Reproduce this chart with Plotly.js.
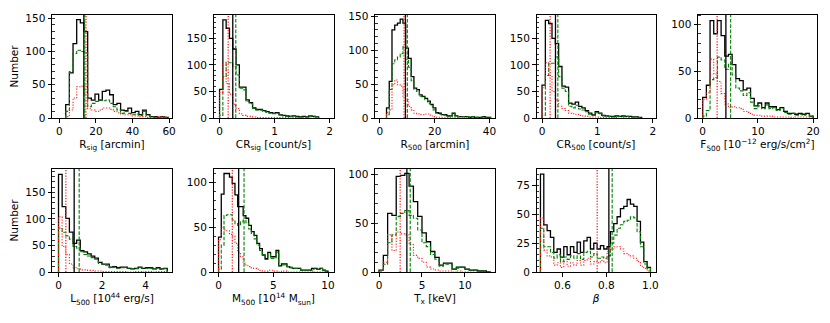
<!DOCTYPE html>
<html>
<head>
<meta charset="utf-8">
<script src="https://cdn.plot.ly/plotly-3.0.1.min.js"></script>
<style>
  body { margin: 0; background: #fff; }
  #chart { width: 830px; height: 323px; }
</style>
</head>
<body>
<div id="chart"></div>
<script>
// Histogram bins: first edge and bin width for each panel
const binStart = [3.5, 0, 2.4, 0, 0, 0, 0, 0, 0.5];
const binWidth = [2, 0.06, 1, 0.06, 20 / 30, 5 / 30, 0.25, 0.5, 0.5 / 33];

// R_sig
const rsigAll   = [20, 68, 112, 148, 143, 130, 30, 27, 36, 27, 40, 42, 35, 20, 22, 12, 11, 15, 8, 10, 5, 12, 5, 2, 2, 1, 2, 1];
const rsigGreen = [10, 70, 97, 102, 100, 98, 17, 22, 25, 27, 26, 27, 22, 17, 12, 7, 10, 7, 5, 6, 4, 10, 4, 2, 1, 1, 1, 1];
const rsigRed   = [2, 12, 30, 47, 48, 35, 14, 12, 10, 12, 15, 15, 13, 10, 8, 6, 5, 5, 3, 3, 2, 2, 1, 1, 1, 2, 2, 1];

// CR_sig
const crsigAll   = [54, 185, 169, 150, 130, 100, 58, 58, 34, 29, 19, 16, 16, 14, 12, 10, 9, 10, 6, 5, 4, 3, 4, 3, 2, 3, 2, 4, 3, 2];
const crsigGreen = [5, 78, 104, 104, 97, 81, 56, 53, 31, 27, 18, 15, 15, 13, 11, 9, 8, 9, 5, 4, 3, 3, 3, 2, 2, 2, 2, 4, 3, 2];
const crsigRed   = [48, 105, 65, 45, 26, 18, 8, 5, 3, 3, 2, 1, 1, 1, 1, 1, 1, 1, 1, 1, 1, 0, 1, 1, 0, 1, 0, 0, 0, 0];

// R_500
const r500All   = [15, 54, 130, 137, 140, 146, 140, 103, 88, 61, 44, 42, 34, 32, 29, 25, 20, 15, 8, 7, 5, 5, 3, 3, 7, 3, 2, 2, 2, 2, 1, 2, 1, 1, 1, 2, 1, 1];
const r500Green = [5, 42, 80, 86, 90, 95, 105, 86, 75, 55, 42, 39, 32, 31, 27, 22, 18, 12, 7, 6, 5, 4, 2, 2, 7, 3, 2, 2, 2, 2, 1, 2, 1, 1, 1, 2, 1, 1];
const r500Red   = [8, 12, 49, 56, 49, 47, 32, 27, 17, 12, 7, 6, 5, 5, 6, 6, 3, 2, 1, 1, 1, 1, 1, 1, 0, 1, 0, 0, 1, 0, 0, 0, 0, 0, 0, 0, 0, 0];

// CR_500
const cr500All   = [62, 184, 178, 150, 140, 97, 60, 58, 28, 26, 30, 22, 19, 14, 9, 6, 12, 9, 5, 4, 3, 3, 4, 3, 4, 3, 3, 2, 2, 1];
const cr500Green = [5, 80, 103, 103, 115, 78, 56, 50, 22, 19, 24, 17, 15, 12, 7, 5, 10, 8, 4, 3, 3, 2, 3, 3, 3, 3, 2, 2, 2, 1];
const cr500Red   = [57, 104, 80, 50, 34, 22, 18, 14, 9, 8, 7, 5, 4, 3, 2, 2, 2, 1, 1, 1, 1, 0, 1, 0, 1, 0, 0, 0, 0, 0];

// F_500
const f500All   = [22, 35, 104, 90, 104, 88, 66, 68, 57, 42, 40, 30, 32, 21, 13, 16, 11, 16, 12, 12, 9, 11, 7, 5, 5, 4, 5, 4, 5, 2];
const f500Green = [2, 8, 41, 43, 65, 62, 52, 58, 46, 32, 29, 24, 27, 17, 10, 13, 10, 14, 10, 11, 8, 10, 6, 4, 5, 3, 4, 3, 4, 2];
const f500Red   = [20, 27, 63, 47, 39, 26, 15, 11, 12, 11, 10, 7, 6, 4, 3, 3, 2, 2, 2, 1, 1, 1, 1, 1, 0, 1, 1, 1, 1, 0];

// L_500
const l500All   = [184, 123, 101, 75, 54, 60, 40, 38, 34, 30, 26, 18, 15, 15, 9, 10, 8, 9, 9, 7, 6, 7, 9, 7, 8, 8, 6, 8, 6, 7];
const l500Green = [83, 75, 68, 62, 48, 45, 38, 33, 30, 27, 24, 16, 14, 13, 8, 9, 7, 8, 8, 7, 6, 6, 8, 7, 7, 7, 6, 7, 5, 6];
const l500Red   = [104, 48, 33, 15, 8, 6, 4, 4, 3, 3, 2, 2, 1, 1, 1, 1, 1, 1, 1, 0, 0, 1, 1, 0, 1, 1, 0, 1, 1, 1];

// M_500
const m500All   = [39, 87, 110, 110, 106, 99, 86, 73, 73, 63, 60, 52, 45, 41, 32, 26, 19, 15, 22, 17, 17, 24, 7, 9, 9, 6, 5, 4, 4, 4, 2, 2, 2, 2, 4, 4, 3, 4, 2, 1];
const m500Green = [3, 30, 63, 64, 64, 58, 54, 52, 56, 58, 55, 48, 43, 37, 30, 24, 19, 14, 20, 15, 15, 22, 7, 8, 8, 6, 5, 4, 4, 4, 2, 2, 2, 2, 3, 4, 3, 4, 2, 1];
const m500Red   = [36, 50, 47, 46, 42, 40, 32, 22, 17, 10, 7, 6, 4, 4, 3, 2, 1, 1, 2, 2, 1, 1, 0, 1, 1, 0, 0, 0, 0, 0, 0, 0, 0, 0, 1, 0, 0, 0, 0, 0];

// T_x
const txAll   = [2, 17, 60, 58, 98, 99, 101, 88, 72, 57, 40, 31, 21, 15, 7, 9, 9, 3, 5, 5, 3, 2, 2, 1, 1, 0];
const txGreen = [1, 8, 30, 38, 57, 60, 63, 58, 55, 43, 30, 26, 18, 13, 6, 8, 8, 3, 4, 5, 3, 2, 2, 1, 1, 0];
const txRed   = [1, 10, 38, 22, 41, 39, 38, 28, 17, 14, 10, 5, 3, 2, 1, 1, 1, 0, 1, 0, 0, 0, 0, 0, 0, 0];

// beta
const betaAll   = [85, 41, 36, 30, 17, 20, 13, 22, 15, 22, 17, 26, 17, 27, 30, 20, 25, 20, 23, 20, 22, 35, 42, 48, 55, 57, 63, 59, 57, 44, 26, 9, 4];
const betaGreen = [38, 22, 22, 17, 12, 15, 9, 13, 11, 14, 12, 16, 11, 17, 18, 13, 16, 12, 13, 12, 14, 25, 32, 38, 41, 44, 45, 48, 47, 35, 22, 7, 3];
const betaRed   = [47, 19, 14, 13, 6, 8, 4, 9, 5, 8, 6, 10, 6, 10, 12, 7, 9, 8, 10, 8, 18, 20, 22, 22, 20, 16, 15, 14, 12, 9, 5, 3, 1];

// median lines
const medAll   = [13.4, 0.24, 9.3, 0.243, 4.2, 0.72, 1.84, 3.24, 0.811];
const medGreen = [13.9, 0.295, 10.0, 0.286, 5.06, 0.95, 2.33, 3.63, 0.826];
const medRed   = [14.6, 0.157, 8.8, 0.146, 2.62, 0.336, 1.26, 2.46, 0.758];

const xTitles = [
    'R<sub>sig</sub> [arcmin]',
    'CR<sub>sig</sub> [count/s]',
    'R<sub>500</sub> [arcmin]',
    'CR<sub>500</sub> [count/s]',
    'F<sub>500</sub> [10<sup>−12</sup> erg/s/cm<sup>2</sup>]',
    'L<sub>500</sub> [10<sup>44</sup> erg/s]',
    'M<sub>500</sub> [10<sup>14</sup> M<sub>sun</sub>]',
    'T<sub>x</sub> [keV]',
    '<i>β</i>'
];

const panels = [
    { all: rsigAll, green: rsigGreen, red: rsigRed, xr: [-4, 61.6], yr: [0, 155], xd: 20, yd: 50, ym: 10 },
    { all: crsigAll, green: crsigGreen, red: crsigRed, xr: [-0.11, 2.07], yr: [0, 194], xd: 1, yd: 50, ym: 10 },
    { all: r500All, green: r500Green, red: r500Red, xr: [-1.8, 42], yr: [0, 152], xd: 20, yd: 50, ym: 10 },
    { all: cr500All, green: cr500Green, red: cr500Red, xr: [-0.1, 2.05], yr: [0, 194], xd: 1, yd: 50, ym: 10 },
    { all: f500All, green: f500Green, red: f500Red, xr: [-0.85, 20.7], yr: [0, 110], xd: 10, yd: 50, ym: 10 },
    { all: l500All, green: l500Green, red: l500Red, xr: [-0.3, 5.22], yr: [0, 194], xd: 2, yd: 50, ym: 10 },
    { all: m500All, green: m500Green, red: m500Red, xr: [-0.46, 10.5], yr: [0, 115], xd: 5, yd: 50, ym: 10 },
    { all: txAll, green: txGreen, red: txRed, xr: [-0.47, 13.5], yr: [0, 105.5], xd: 5, yd: 50, ym: 10 },
    { all: betaAll, green: betaGreen, red: betaRed, xr: [0.482, 1.023], yr: [0, 89.5], xd: 0.2, yd: 25, ym: 5 }
];

const W = 830, H = 323;
const colPx = [[52, 172], [213.5, 333.5], [375, 495], [536.5, 655.5], [698, 817]];
const rowPx = [[15, 118], [169, 272]];

const FONT = 'DejaVu Sans, sans-serif';
const FS = 10.5;
const BLACK = '#000000';
const GREEN = '#008000';
const RED = '#ff2020';
const DASH = '3.7px,1.6px';
const DOT = '1.2px,1.6px';

// contorno em degraus de um histograma
function stepXY(start, width, counts) {
    const xs = [start], ys = [0];
    counts.forEach((c, i) => { xs.push(start + i * width); ys.push(c); });
    const end = start + counts.length * width;
    xs.push(end); ys.push(counts[counts.length - 1]);
    xs.push(end); ys.push(0);
    return { xs, ys };
}

const traces = [];
const shapes = [];
const layout = {
    width: W, height: H,
    margin: { l: 0, r: 0, t: 0, b: 0 },
    paper_bgcolor: '#fff', plot_bgcolor: '#fff',
    showlegend: false,
    font: { family: FONT, size: FS, color: '#000' }
};

panels.forEach((p, i) => {
    const n = i + 1;
    const sfx = n === 1 ? '' : String(n);
    const row = i < 5 ? 0 : 1;
    const col = i < 5 ? i : i - 5;
    const xa = 'x' + sfx, ya = 'y' + sfx;

    const series = [
        { data: p.all, color: BLACK, dash: 'solid', w: 1.3 },
        { data: p.green, color: GREEN, dash: DASH, w: 1.1 },
        { data: p.red, color: RED, dash: DOT, w: 1.1 }
    ];
    series.forEach(s => {
        const st = stepXY(binStart[i], binWidth[i], s.data);
        traces.push({
            x: st.xs, y: st.ys, xaxis: xa, yaxis: ya,
            type: 'scatter', mode: 'lines',
            line: { color: s.color, width: s.w, dash: s.dash, shape: 'hv' },
            hoverinfo: 'skip'
        });
    });

    [[medAll[i], BLACK, 'solid', 1.3], [medGreen[i], GREEN, DASH, 1.1], [medRed[i], RED, DOT, 1.3]].forEach(m => {
        shapes.push({
            type: 'line', xref: xa, yref: ya + ' domain',
            x0: m[0], x1: m[0], y0: 0, y1: 1,
            line: { color: m[1], width: m[3], dash: m[2] }
        });
    });

    const axisBase = {
        showline: true, mirror: true, linecolor: '#000', linewidth: 1,
        showgrid: false, zeroline: false,
        ticks: 'outside', ticklen: 3.5, tickwidth: 1, tickcolor: '#000',
        tickfont: { family: FONT, size: FS, color: '#000' }
    };

    layout['xaxis' + sfx] = Object.assign({}, axisBase, {
        domain: [colPx[col][0] / W, colPx[col][1] / W],
        anchor: ya, range: p.xr, dtick: p.xd, tick0: 0,
        tickformat: i === 8 ? '.1f' : '',
        title: { text: xTitles[i], font: { family: FONT, size: FS, color: '#000' }, standoff: 4 }
    });
    layout['yaxis' + sfx] = Object.assign({}, axisBase, {
        domain: [1 - rowPx[row][1] / H, 1 - rowPx[row][0] / H],
        anchor: xa, range: p.yr, dtick: p.yd, tick0: 0,
        minor: { dtick: p.ym, ticks: 'inside', ticklen: 2.5, tickwidth: 0.8, tickcolor: '#000', showgrid: false },
        title: col === 0 ? { text: 'Number', font: { family: FONT, size: FS, color: '#000' }, standoff: 4 } : { text: '' }
    });
});

layout.shapes = shapes;

Plotly.newPlot('chart', traces, layout, { displayModeBar: false, staticPlot: true });
</script>
</body>
</html>
